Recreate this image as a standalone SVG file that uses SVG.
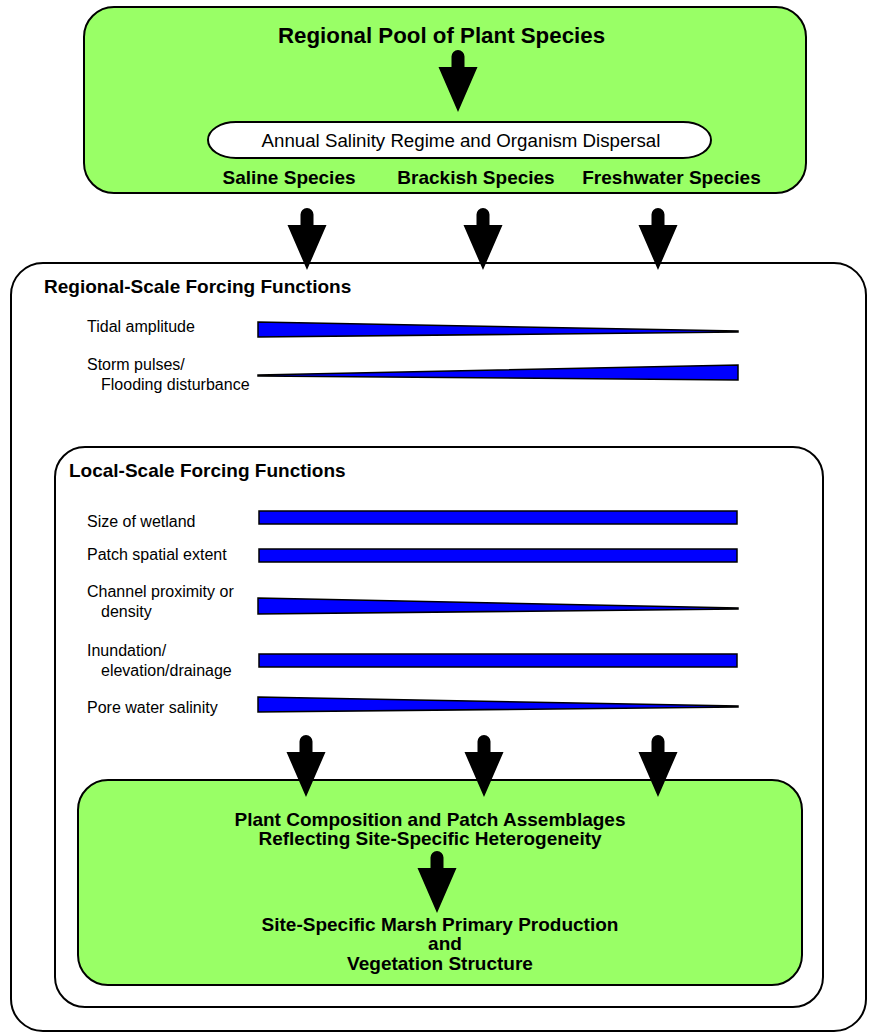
<svg xmlns="http://www.w3.org/2000/svg" xmlns:xlink="http://www.w3.org/1999/xlink" width="869" height="1034" viewBox="0 0 869 1034">
<style>
.box{stroke:#000;stroke-width:2}
.green{fill:#99ff66}
.white{fill:#fff}
.t{font-family:"Liberation Sans",Arial,sans-serif;fill:#000}
.b{font-weight:bold}
.title{font-size:22.3px}
.h{font-size:19px}
.s{font-size:16px}
.a{font-size:18.7px}
.bar{fill:#0000ff;stroke:#000;stroke-width:1.5;stroke-linejoin:miter}
.arr{fill:#000}
</style>
<defs>
<path id="arrow" d="M-6.5,17 V6.5 A6.5,6.5 0 0 1 6.5,6.5 V17 H19.5 L0,62 L-19.5,17 Z"/>
</defs>
<rect width="869" height="1034" fill="#fff"/>

<g id="regional-pool">
<rect class="box green" x="84" y="7" width="722" height="186" rx="30" ry="30"/>
<text class="t b title" x="441.5" y="43" text-anchor="middle">Regional Pool of Plant Species</text>
<text class="t b h" x="289" y="184" text-anchor="middle">Saline Species</text>
<text class="t b h" x="476" y="184" text-anchor="middle">Brackish Species</text>
<text class="t b h" x="671.5" y="184" text-anchor="middle">Freshwater Species</text>
</g>
<g id="annual-salinity">
<rect class="box white" x="208" y="122" width="503" height="36" rx="28" ry="18"/>
<text class="t a" x="461" y="147" text-anchor="middle">Annual Salinity Regime and Organism Dispersal</text>
</g>

<g id="regional-forcing">
<rect class="box white" x="11" y="263" width="855" height="768" rx="32" ry="32"/>
<text class="t b h" x="44" y="293">Regional-Scale Forcing Functions</text>
<text class="t s" x="87" y="332">Tidal amplitude</text>
<polygon class="bar" points="258,322 738,331 738,332 258,337"/>
<text class="t s" x="87" y="370">Storm pulses/</text>
<text class="t s" x="101" y="390">Flooding disturbance</text>
<polygon class="bar" points="258,375 738,365 738,380 258,376"/>
</g>

<g id="local-forcing">
<rect class="box white" x="55" y="447" width="768" height="560" rx="30" ry="30"/>
<text class="t b h" x="69" y="477">Local-Scale Forcing Functions</text>
<text class="t s" x="87" y="527">Size of wetland</text>
<rect class="bar" x="259" y="511" width="478" height="13"/>
<text class="t s" x="87" y="560">Patch spatial extent</text>
<rect class="bar" x="259" y="549" width="478" height="13"/>
<text class="t s" x="87" y="597">Channel proximity or</text>
<text class="t s" x="101" y="617">density</text>
<polygon class="bar" points="258,598 738,608 738,609 258,614"/>
<text class="t s" x="87" y="656">Inundation/</text>
<text class="t s" x="101" y="676">elevation/drainage</text>
<rect class="bar" x="259" y="654" width="478" height="13"/>
<text class="t s" x="87" y="713">Pore water salinity</text>
<polygon class="bar" points="258,697 738,706 738,707 258,712"/>
</g>

<g id="plant-composition">
<rect class="box green" x="78" y="780" width="724" height="205" rx="30" ry="30"/>
<text class="t b h" x="430" y="826" text-anchor="middle">Plant Composition and Patch Assemblages</text>
<text class="t b h" x="430" y="845" text-anchor="middle">Reflecting Site-Specific Heterogeneity</text>
</g>
<g id="marsh-production">
<text class="t b h" x="440" y="931" text-anchor="middle">Site-Specific Marsh Primary Production</text>
<text class="t b h" x="445" y="950" text-anchor="middle">and</text>
<text class="t b h" x="440" y="970" text-anchor="middle">Vegetation Structure</text>
</g>

<g id="connectors" class="arr">
<use xlink:href="#arrow" x="458" y="50"/>
<use xlink:href="#arrow" x="307" y="208"/>
<use xlink:href="#arrow" x="483" y="208"/>
<use xlink:href="#arrow" x="658" y="208"/>
<use xlink:href="#arrow" x="306" y="735"/>
<use xlink:href="#arrow" x="484" y="735"/>
<use xlink:href="#arrow" x="658" y="735"/>
<use xlink:href="#arrow" x="437" y="851"/>
</g>
</svg>
